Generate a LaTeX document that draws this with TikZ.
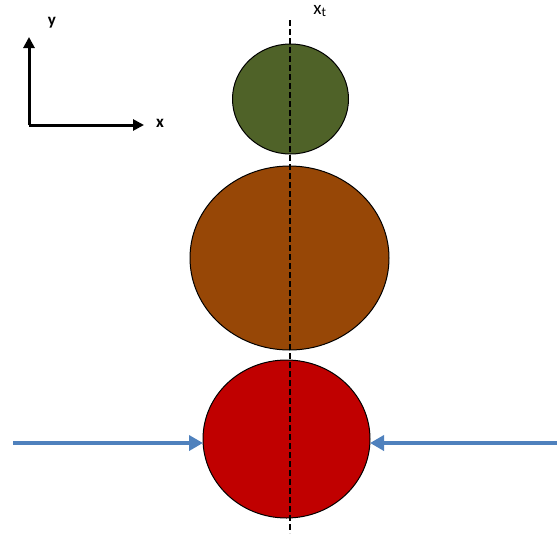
\documentclass[tikz,border=0pt]{standalone}
\usepackage{fontspec}
\setmainfont{Carlito}
\usetikzlibrary{arrows.meta}
\definecolor{cgreen}{HTML}{4F6228}
\definecolor{cbrown}{HTML}{974706}
\definecolor{cred}{HTML}{C00000}
\definecolor{cblue}{HTML}{4F81BD}
\begin{document}
\begin{tikzpicture}[x=1pt,y=-1pt,
  ball/.style={draw=black,line width=1pt},
  axis/.style={line width=3pt,-{Triangle[length=11pt,width=11pt]}},
  push/.style={cblue,line width=4pt,-{Triangle[length=14pt,width=15pt]}},
  lbl/.style={font=\fontsize{17}{19}\selectfont\bfseries}]
\useasboundingbox (0,0) rectangle (557,533);
\fill[cgreen,ball] (290.5,99) ellipse [x radius=58, y radius=55];
\fill[cbrown,ball] (289.5,258) ellipse [x radius=99.5, y radius=92];
\fill[cred,ball] (286.5,439) ellipse [x radius=83.5, y radius=79];
\coordinate (lt) at (290,20);
\coordinate (lb) at (290,533);
\draw[line width=1.3pt,dash pattern=on 6pt off 3pt] (lt) -- (lb);
\node[font=\fontsize{19}{21}\selectfont] (xt) at (320,11) {x\textsubscript{t}};
\coordinate (o) at (29,125);
\coordinate (yt) at (29,37);
\coordinate (xe) at (144,125);
\draw[axis] (o) -- (yt);
\draw[axis] (o) -- (xe);
\node[lbl] (ylab) at (52,23) {y};
\node[lbl] (xlab) at (160,123) {x};
\coordinate (la) at (13,443);
\coordinate (ra) at (557,443);
\coordinate (lh) at (203,443);
\coordinate (rh) at (370,443);
\draw[push] (la) -- (lh);
\draw[push] (ra) -- (rh);
\end{tikzpicture}
\end{document}
